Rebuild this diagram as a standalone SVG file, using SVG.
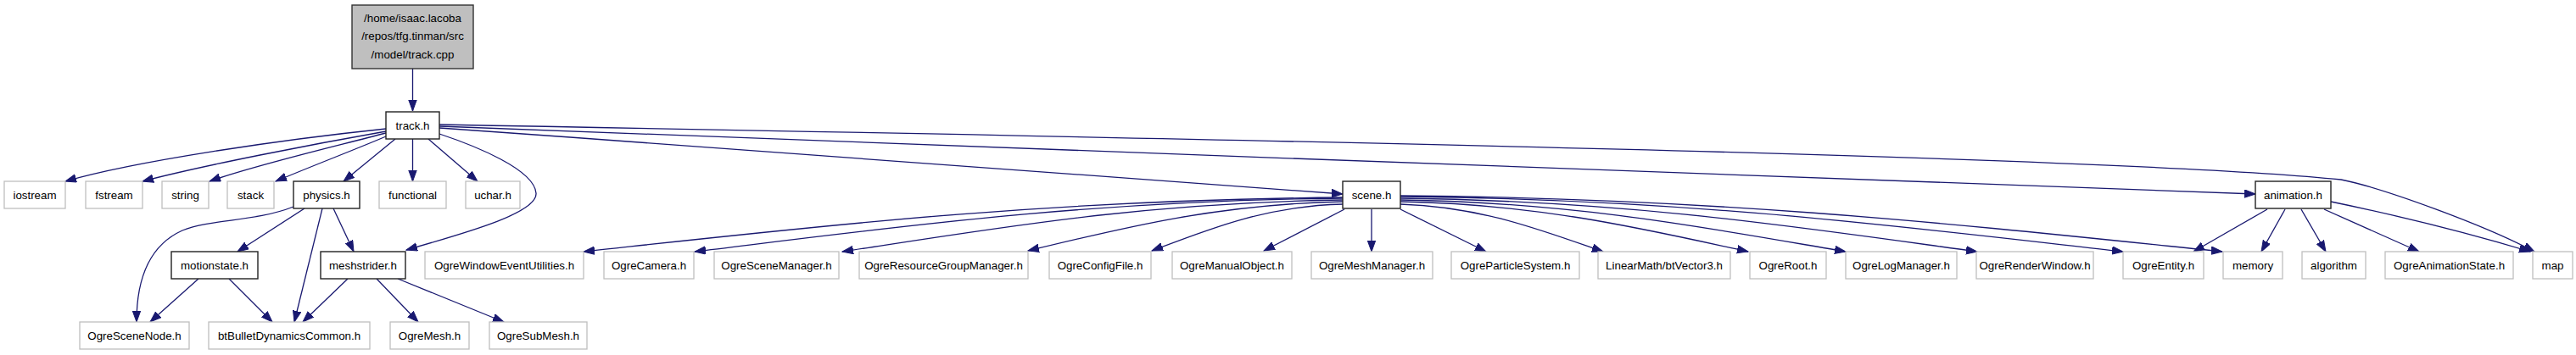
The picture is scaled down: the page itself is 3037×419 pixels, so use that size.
<svg xmlns="http://www.w3.org/2000/svg" width="3037" height="419" viewBox="0 0 3037 419">
<defs>
<style>
.n rect{fill:#fff;stroke:#bfbfbf;stroke-width:1.3}
.d rect{fill:#fff;stroke:#222;stroke-width:1.4}
.r rect{fill:#bfbfbf;stroke:#333;stroke-width:1.4}
text{font-family:"Liberation Sans",Arial,Helvetica,sans-serif;font-size:13.33px;fill:#000;text-anchor:middle}
#edges path{fill:none;stroke:#191970;stroke-width:1.3;marker-end:url(#ah)}
</style>
<marker id="ah" markerUnits="userSpaceOnUse" markerWidth="14" markerHeight="11" refX="13" refY="5" orient="auto">
<path d="M0,0.3 L13,5 L0,9.7 Z" fill="#191970" stroke="#191970" stroke-width="1"/>
</marker>
</defs>
<rect width="3037" height="419" fill="#fff"/>
<g id="edges">
<path d="M486.5,81 L486.5,131"/>
<path d="M455,152 C 330,165 160,190 77,214"/>
<path d="M455,155 C 370,170 240,195 168,214"/>
<path d="M455,157 C 390,174 300,195 247,214"/>
<path d="M455,161 C 420,176 370,195 325,214"/>
<path d="M466,164 L405,214"/>
<path d="M486.5,164 L486.5,214"/>
<path d="M505,164 L563,214"/>
<path d="M518,158 C 560,172 630,200 632,228 C 634,250 560,272 479,295"/>
<path d="M518,151 C 900,178 1300,208 1583,229"/>
<path d="M518,149 C 1200,175 2000,205 2659,229"/>
<path d="M518,147 C 1500,165 2500,185 2760,212 C 2810,222 2930,266 2988,297"/>
<path d="M346,244 C 300,262 250,258 215,272 C 175,290 161,330 161,380"/>
<path d="M359,246 L280,297"/>
<path d="M380,246 L347,380"/>
<path d="M393,246 L417,297"/>
<path d="M234,329 L177,380"/>
<path d="M270,329 L321,380"/>
<path d="M410,329 L357,380"/>
<path d="M444,329 L493,380"/>
<path d="M469,329 L594,380"/>
<path d="M1583,233 C 1225,236 956,268 688,297"/>
<path d="M1583,234 C 1277,237 1048,269 819,297"/>
<path d="M1583,236 C 1347,239 1170,270 993,297"/>
<path d="M1583,238 C 1435,241 1323,269 1212,296"/>
<path d="M1583,241 C 1493,243 1426,270 1358,296"/>
<path d="M1585,247 L1490,296"/>
<path d="M1617,247 L1617,297"/>
<path d="M1651,247 L1752,297"/>
<path d="M1651,241 C 1747,244 1818,272 1890,297"/>
<path d="M1651,238 C 1815,241 1938,270 2061,297"/>
<path d="M1651,236 C 1861,239 2018,270 2176,297"/>
<path d="M1651,234 C 1923,237 2127,269 2331,297"/>
<path d="M1651,232 C 1992,235 2247,268 2503,297"/>
<path d="M1651,231 C 2039,234 2329,267 2620,297"/>
<path d="M2673,247 L2586,297"/>
<path d="M2694,247 L2666,297"/>
<path d="M2713,247 L2742,297"/>
<path d="M2740,247 L2852,297"/>
<path d="M2748,238 C 2830,255 2920,278 2983,297"/>
</g>
<g id="root" class="r"><rect x="415" y="6" width="143" height="75"/><text x="486.5" y="25.5">/home/isaac.lacoba</text><text x="486.5" y="47">/repos/tfg.tinman/src</text><text x="486.5" y="68.5">/model/track.cpp</text></g>
<g id="track_h" class="d"><rect x="455" y="132" width="63" height="32"/><text x="486.5" y="152.5">track.h</text></g>
<g id="iostream" class="n"><rect x="5" y="214" width="72" height="32"/><text x="41" y="234.5">iostream</text></g>
<g id="fstream" class="n"><rect x="101" y="214" width="67" height="32"/><text x="134.5" y="234.5">fstream</text></g>
<g id="string" class="n"><rect x="191" y="214" width="55" height="32"/><text x="218.5" y="234.5">string</text></g>
<g id="stack" class="n"><rect x="268" y="214" width="55" height="32"/><text x="295.5" y="234.5">stack</text></g>
<g id="physics_h" class="d"><rect x="346" y="214" width="78" height="32"/><text x="385" y="234.5">physics.h</text></g>
<g id="functional" class="n"><rect x="447" y="214" width="79" height="32"/><text x="486.5" y="234.5">functional</text></g>
<g id="uchar_h" class="n"><rect x="549" y="214" width="64" height="32"/><text x="581" y="234.5">uchar.h</text></g>
<g id="scene_h" class="d"><rect x="1583" y="214" width="68" height="32"/><text x="1617" y="234.5">scene.h</text></g>
<g id="animation_h" class="d"><rect x="2659" y="214" width="89" height="32"/><text x="2703.5" y="234.5">animation.h</text></g>
<g id="motionstate_h" class="d"><rect x="202" y="297" width="102" height="32"/><text x="253" y="317.5">motionstate.h</text></g>
<g id="meshstrider_h" class="d"><rect x="378" y="297" width="100" height="32"/><text x="428" y="317.5">meshstrider.h</text></g>
<g id="OgreWindowEventUtilities_h" class="n"><rect x="501" y="297" width="187" height="32"/><text x="594.5" y="317.5">OgreWindowEventUtilities.h</text></g>
<g id="OgreCamera_h" class="n"><rect x="712" y="297" width="106" height="32"/><text x="765" y="317.5">OgreCamera.h</text></g>
<g id="OgreSceneManager_h" class="n"><rect x="842" y="297" width="147" height="32"/><text x="915.5" y="317.5">OgreSceneManager.h</text></g>
<g id="OgreResourceGroupManager_h" class="n"><rect x="1013" y="297" width="199" height="32"/><text x="1112.5" y="317.5">OgreResourceGroupManager.h</text></g>
<g id="OgreConfigFile_h" class="n"><rect x="1237" y="297" width="120" height="32"/><text x="1297" y="317.5">OgreConfigFile.h</text></g>
<g id="OgreManualObject_h" class="n"><rect x="1382" y="297" width="141" height="32"/><text x="1452.5" y="317.5">OgreManualObject.h</text></g>
<g id="OgreMeshManager_h" class="n"><rect x="1546" y="297" width="143" height="32"/><text x="1617.5" y="317.5">OgreMeshManager.h</text></g>
<g id="OgreParticleSystem_h" class="n"><rect x="1711" y="297" width="151" height="32"/><text x="1786.5" y="317.5">OgreParticleSystem.h</text></g>
<g id="btVector3_h" class="n"><rect x="1884" y="297" width="156" height="32"/><text x="1962" y="317.5">LinearMath/btVector3.h</text></g>
<g id="OgreRoot_h" class="n"><rect x="2063" y="297" width="90" height="32"/><text x="2108" y="317.5">OgreRoot.h</text></g>
<g id="OgreLogManager_h" class="n"><rect x="2176" y="297" width="131" height="32"/><text x="2241.5" y="317.5">OgreLogManager.h</text></g>
<g id="OgreRenderWindow_h" class="n"><rect x="2330" y="297" width="138" height="32"/><text x="2399" y="317.5">OgreRenderWindow.h</text></g>
<g id="OgreEntity_h" class="n"><rect x="2503" y="297" width="95" height="32"/><text x="2550.5" y="317.5">OgreEntity.h</text></g>
<g id="memory" class="n"><rect x="2621" y="297" width="70" height="32"/><text x="2656" y="317.5">memory</text></g>
<g id="algorithm" class="n"><rect x="2714" y="297" width="75" height="32"/><text x="2751.5" y="317.5">algorithm</text></g>
<g id="OgreAnimationState_h" class="n"><rect x="2812" y="297" width="151" height="32"/><text x="2887.5" y="317.5">OgreAnimationState.h</text></g>
<g id="map" class="n"><rect x="2986" y="297" width="47" height="32"/><text x="3009.5" y="317.5">map</text></g>
<g id="OgreSceneNode_h" class="n"><rect x="94" y="380" width="129" height="32"/><text x="158.5" y="400.5">OgreSceneNode.h</text></g>
<g id="btBulletDynamicsCommon_h" class="n"><rect x="246" y="380" width="190" height="32"/><text x="341" y="400.5">btBulletDynamicsCommon.h</text></g>
<g id="OgreMesh_h" class="n"><rect x="460" y="380" width="93" height="32"/><text x="506.5" y="400.5">OgreMesh.h</text></g>
<g id="OgreSubMesh_h" class="n"><rect x="577" y="380" width="115" height="32"/><text x="634.5" y="400.5">OgreSubMesh.h</text></g>
</svg>
